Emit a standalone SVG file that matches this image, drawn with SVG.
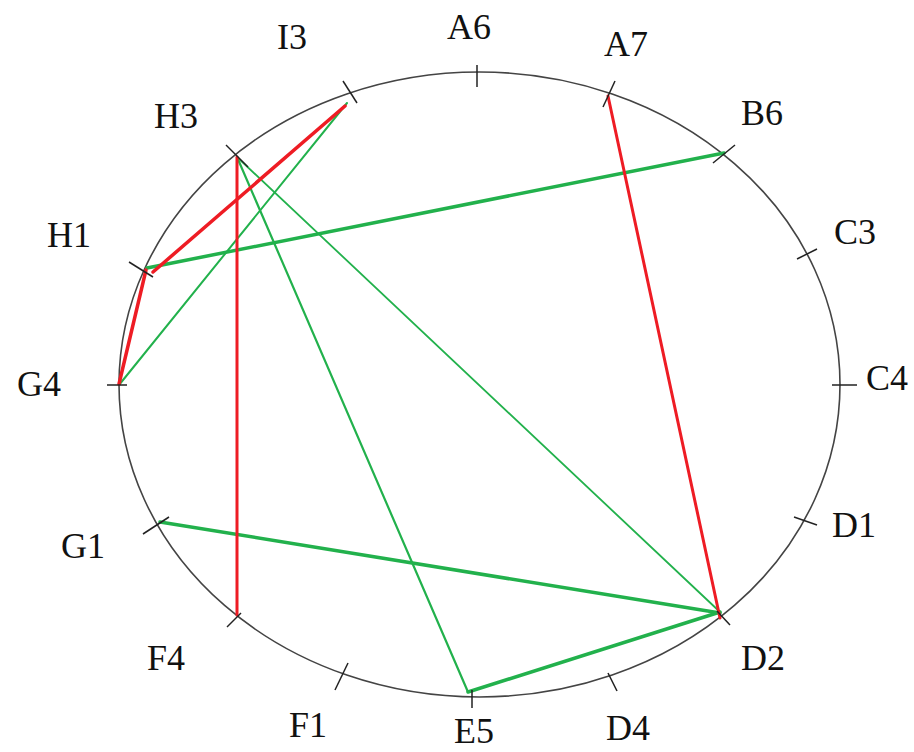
<svg xmlns="http://www.w3.org/2000/svg" width="914" height="752" viewBox="0 0 914 752">
<style>
.lbl{font-family:"Liberation Serif","Times New Roman",serif;font-size:36px;fill:#111}
.tick{stroke:#222;stroke-width:1.5}
.g{stroke:#22b14c;fill:none;stroke-linecap:round}
.r{stroke:#ee1c24;fill:none;stroke-linecap:round}
</style>
<rect width="914" height="752" fill="#fff"/>
<ellipse id="ring" cx="479.5" cy="384.5" rx="360.5" ry="312.5" fill="none" stroke="#444" stroke-width="1.6"/>
<g id="connectors">
<line class="g" x1="347" y1="103" x2="119" y2="385" stroke-width="2"/>
<line class="g" x1="147" y1="268" x2="724" y2="153" stroke-width="3.5"/>
<line class="g" x1="237" y1="157" x2="468" y2="692" stroke-width="2.2"/>
<line class="g" x1="237" y1="157" x2="720" y2="612" stroke-width="1.8"/>
<line class="g" x1="160" y1="522" x2="720" y2="613" stroke-width="3.5"/>
<line class="g" x1="468" y1="692" x2="720" y2="612" stroke-width="3.5"/>
<line class="r" x1="345" y1="106" x2="153" y2="272" stroke-width="3.5"/>
<line class="r" x1="146" y1="270" x2="119" y2="384" stroke-width="3.5"/>
<line class="r" x1="237" y1="157" x2="237" y2="615" stroke-width="3"/>
<line class="r" x1="608" y1="96" x2="720" y2="618" stroke-width="3"/>
</g>
<g id="A6"><line class="tick" x1="477" y1="65" x2="477" y2="87"/><text class="lbl" x="447" y="39">A6</text></g>
<g id="A7"><line class="tick" x1="603" y1="107" x2="615" y2="81"/><text class="lbl" x="604" y="56">A7</text></g>
<g id="B6"><line class="tick" x1="713" y1="163" x2="735" y2="145"/><text class="lbl" x="741" y="125">B6</text></g>
<g id="C3"><line class="tick" x1="797" y1="259" x2="817" y2="249"/><text class="lbl" x="834" y="244">C3</text></g>
<g id="C4"><line class="tick" x1="832" y1="385" x2="857" y2="385"/><text class="lbl" x="866" y="390">C4</text></g>
<g id="D1"><line class="tick" x1="794" y1="517" x2="817" y2="525"/><text class="lbl" x="832" y="537">D1</text></g>
<g id="D2"><line class="tick" x1="717" y1="611" x2="730" y2="625"/><text class="lbl" x="741" y="670">D2</text></g>
<g id="D4"><line class="tick" x1="608" y1="673" x2="617" y2="691"/><text class="lbl" x="606" y="740">D4</text></g>
<g id="E5"><line class="tick" x1="472" y1="690" x2="472" y2="708"/><text class="lbl" x="454" y="743">E5</text></g>
<g id="F1"><line class="tick" x1="335" y1="690" x2="348" y2="663"/><text class="lbl" x="289" y="737">F1</text></g>
<g id="F4"><line class="tick" x1="227" y1="627" x2="241" y2="613"/><text class="lbl" x="147" y="670">F4</text></g>
<g id="G1"><line class="tick" x1="143" y1="534" x2="169" y2="517"/><text class="lbl" x="61" y="558">G1</text></g>
<g id="G4"><line class="tick" x1="107" y1="385" x2="127" y2="385"/><text class="lbl" x="17" y="396">G4</text></g>
<g id="H1"><line class="tick" x1="129" y1="262" x2="153" y2="277"/><text class="lbl" x="47" y="247">H1</text></g>
<g id="H3"><line class="tick" x1="226" y1="145" x2="248" y2="167"/><text class="lbl" x="154" y="128">H3</text></g>
<g id="I3"><line class="tick" x1="343" y1="81" x2="357" y2="103"/><text class="lbl" x="277" y="49">I3</text></g>
</svg>
